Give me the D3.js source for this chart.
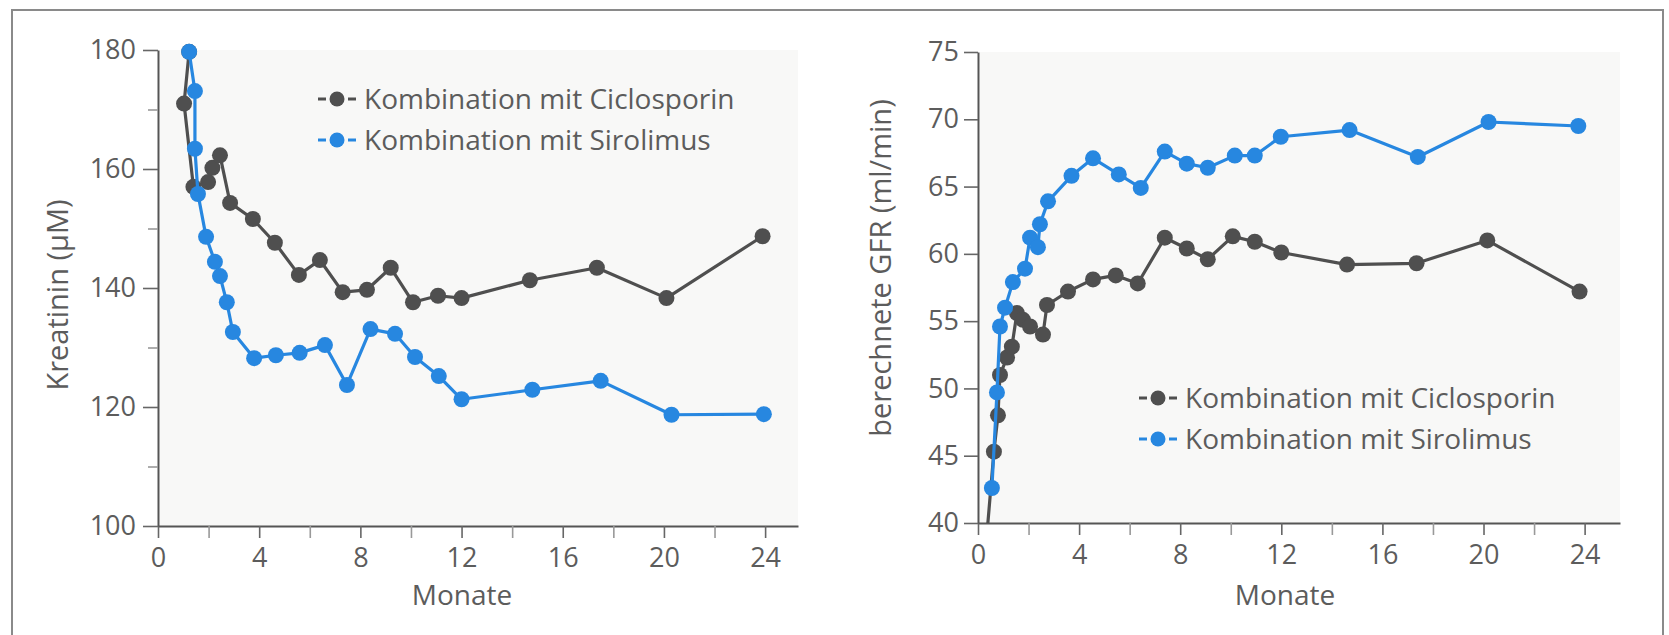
<!DOCTYPE html>
<html>
<head>
<meta charset="utf-8">
<script src="https://cdn.jsdelivr.net/npm/d3@7"></script>
<style>
  body { margin: 0; background: #fff; }
  svg { display: block; font-family: "Open Sans", sans-serif; }
  .ticklabel { fill: #5c5c5c; }
</style>
</head>
<body>
<div id="chart"></div>
<script>
// months on x
var legendNames = ['Kombination mit Ciclosporin', 'Kombination mit Sirolimus'];
var colors = ['#4f4f4f', '#2787e0'];

var kreaCicloMonths = [1.23, 1.03, 1.4, 1.98, 2.15, 2.45, 2.85, 3.75, 4.62, 5.57, 6.4, 7.3, 8.26, 9.2, 10.08, 11.07, 12.0, 14.7, 17.35, 20.1, 23.9];
var kreaCicloValues = [179.7, 171, 157, 157.8, 160.2, 162.3, 154.3, 151.6, 147.6, 142.2, 144.7, 139.3, 139.7, 143.4, 137.6, 138.7, 138.3, 141.3, 143.4, 138.3, 148.7];

var kreaSiroMonths = [1.23, 1.46, 1.46, 1.58, 1.9, 2.25, 2.45, 2.72, 2.96, 3.8, 4.66, 5.6, 6.6, 7.47, 8.4, 9.37, 10.16, 11.1, 12.0, 14.8, 17.5, 20.3, 23.95];
var kreaSiroValues = [179.7, 173.1, 163.4, 155.8, 148.6, 144.4, 142, 137.6, 132.6, 128.2, 128.7, 129.1, 130.4, 123.7, 133.1, 132.3, 128.4, 125.2, 121.3, 122.9, 124.4, 118.7, 118.8];

var gfrCicloMonths = [0.3, 0.63, 0.79, 0.87, 1.15, 1.34, 1.54, 1.78, 2.06, 2.57, 2.73, 3.56, 4.55, 5.45, 6.32, 7.39, 8.26, 9.09, 10.08, 10.95, 12.0, 14.6, 17.35, 20.15, 23.8];
var gfrCicloValues = [38, 45.3, 48.0, 51.0, 52.3, 53.1, 55.6, 55.1, 54.6, 54.0, 56.2, 57.2, 58.1, 58.4, 57.8, 61.2, 60.4, 59.6, 61.3, 60.9, 60.1, 59.2, 59.3, 61.0, 57.2];

var gfrSiroMonths = [0.55, 0.75, 0.87, 1.07, 1.38, 1.86, 2.06, 2.37, 2.45, 2.77, 3.7, 4.55, 5.57, 6.44, 7.39, 8.26, 9.09, 10.16, 10.95, 11.98, 14.7, 17.4, 20.2, 23.75];
var gfrSiroValues = [42.6, 49.7, 54.6, 56.0, 57.9, 58.9, 61.2, 60.5, 62.2, 63.9, 65.8, 67.1, 65.9, 64.9, 67.6, 66.7, 66.4, 67.3, 67.3, 68.7, 69.2, 67.2, 69.8, 69.5];

var xTicks = d3.range(0, 25, 2);
var kreaTicks = d3.range(100, 181, 10);
var gfrTicks = d3.range(40, 76, 5);

var W = 1669, H = 635;

var svg = d3.select('#chart')
    .append('svg')
    .attr('width', W)
    .attr('height', H);

// outer frame
svg.append('path')
    .attr('d', 'M12,635 L12,10 L1663,10 L1663,635')
    .attr('fill', 'none')
    .attr('stroke', '#8a8a8a')
    .attr('stroke-width', 2);

function zip(ms, vs) {
    return ms.map(function(m, i) { return {m: m, v: vs[i]}; });
}

function panel(id, x0, x1, xmax, y0, y1, ymin, ymax, yTicks, yMajor, yTickSize, yPad, yTitle, yTitleX, yTitleY, monateX, series, legX, legY) {

    var xScale = d3.scaleLinear().domain([0, xmax]).range([x0, x1]);
    var yScale = d3.scaleLinear().domain([ymin, ymax]).range([y0, y1]);

    var g = svg.append('g').attr('id', id);

    // light paper tone of the plot area
    g.append('rect')
        .attr('x', x0 + 2)
        .attr('y', y1)
        .attr('width', x1 - x0 - 2)
        .attr('height', y0 - y1)
        .attr('fill', '#f8f8f7');

    var xAxis = d3.axisBottom(xScale)
        .tickValues(xTicks)
        .tickSize(12)
        .tickPadding(10)
        .tickSizeOuter(0)
        .tickFormat(function(d) { return d % 4 == 0 ? d : ''; });

    var yAxis = d3.axisLeft(yScale)
        .tickValues(yTicks)
        .tickSize(yTickSize)
        .tickPadding(yPad)
        .tickSizeOuter(0)
        .tickFormat(function(d) { return yMajor(d) ? d : ''; });

    var gx = g.append('g')
        .attr('transform', 'translate(0,' + y0 + ')')
        .call(xAxis);
    var gy = g.append('g')
        .attr('transform', 'translate(' + x0 + ',0)')
        .call(yAxis);

    [gx, gy].forEach(function(a) {
        a.select('.domain').attr('stroke', '#555').attr('stroke-width', 2);
        a.selectAll('.tick line').attr('stroke', '#666').attr('stroke-width', 1.6);
        a.selectAll('.tick text')
            .attr('class', 'ticklabel')
            .style('font-size', '27px')
            .style('font-family', '"Open Sans", sans-serif');
    });
    gx.selectAll('.tick line')
        .attr('stroke', function(d) { return d % 4 == 0 ? '#666' : '#999'; });
    gy.selectAll('.tick line')
        .attr('x2', function(d) { return yMajor(d) ? -yTickSize : -yTickSize + 5; })
        .attr('stroke', function(d) { return yMajor(d) ? '#666' : '#999'; });

    // clip so the series stays above the x axis
    var clipId = id + '-clip';
    g.append('clipPath').attr('id', clipId)
        .append('rect')
        .attr('x', x0).attr('y', 0)
        .attr('width', x1 - x0 + 20).attr('height', y0);

    var line = d3.line()
        .x(function(d) { return xScale(d.m); })
        .y(function(d) { return yScale(d.v); });

    series.forEach(function(s, i) {
        var sg = g.append('g').attr('clip-path', 'url(#' + clipId + ')');
        sg.append('path')
            .datum(s)
            .attr('d', line)
            .attr('fill', 'none')
            .attr('stroke', colors[i])
            .attr('stroke-width', 3.2)
            .attr('stroke-linejoin', 'round');
        sg.selectAll('circle')
            .data(s)
            .enter()
            .append('circle')
            .attr('cx', function(d) { return xScale(d.m); })
            .attr('cy', function(d) { return yScale(d.v); })
            .attr('r', 8)
            .attr('fill', colors[i]);
    });

    // axis titles
    g.append('text')
        .attr('transform', 'translate(' + yTitleX + ',' + yTitleY + ') rotate(-90)')
        .style('text-anchor', 'middle')
        .style('font-size', '29px')
        .attr('fill', '#5c5c5c')
        .text(yTitle);

    g.append('text')
        .attr('x', monateX)
        .attr('y', 605)
        .style('text-anchor', 'middle')
        .style('font-size', '28px')
        .attr('fill', '#5c5c5c')
        .text('Monate');

    // legend
    var leg = g.selectAll('.leg')
        .data(legendNames)
        .enter()
        .append('g')
        .attr('transform', function(d, i) {
            return 'translate(' + legX + ',' + (legY + 41 * i) + ')';
        });
    leg.append('line')
        .attr('x1', 0).attr('x2', 38)
        .attr('y1', 0).attr('y2', 0)
        .attr('stroke', function(d, i) { return colors[i]; })
        .attr('stroke-width', 3)
        .attr('stroke-dasharray', '8,22,8');
    leg.append('circle')
        .attr('cx', 19).attr('cy', 0).attr('r', 7.5)
        .attr('fill', function(d, i) { return colors[i]; });
    leg.append('text')
        .attr('x', 46)
        .attr('y', 10)
        .style('font-size', '28px')
        .attr('fill', '#5c5c5c')
        .text(function(d) { return d; });
}

panel('krea', 158, 798, 25.3, 526, 50, 100, 180, kreaTicks,
    function(d) { return d % 20 == 0; }, 15, 7,
    'Kreatinin (\u00b5M)', 68, 295, 462,
    [zip(kreaCicloMonths, kreaCicloValues), zip(kreaSiroMonths, kreaSiroValues)],
    318, 99);

panel('gfr', 978, 1620, 25.4, 523, 52, 40, 75, gfrTicks,
    function(d) { return true; }, 14, 5,
    'berechnete GFR (ml/min)', 891, 268, 1285,
    [zip(gfrCicloMonths, gfrCicloValues), zip(gfrSiroMonths, gfrSiroValues)],
    1139, 398);
</script>
</body>
</html>
